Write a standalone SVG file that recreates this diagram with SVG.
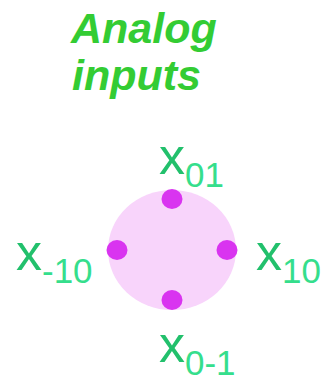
<svg xmlns="http://www.w3.org/2000/svg" width="324" height="380" viewBox="0 0 324 380">
<style>
.title{font-family:"Liberation Sans",Arial,sans-serif;font-weight:bold;font-style:italic;font-size:43px;fill:#33cc33}
.lbl{font-family:"Liberation Sans",Arial,sans-serif;font-size:52px;fill:#22c06c}
.sub{font-size:35px;fill:#35de8c}
.dot{fill:#d934f0}
</style>
<rect width="324" height="380" fill="#ffffff"/>
<g id="title">
<text class="title" x="71" y="43">Analog</text>
<text class="title" x="72" y="90">inputs</text>
</g>
<g id="disc">
<ellipse cx="172" cy="250" rx="64" ry="60" fill="#f8d4fb"/>
</g>
<g id="connectors"></g>
<g id="n01">
<ellipse class="dot" cx="172" cy="199" rx="10.5" ry="10"/>
<text class="lbl" x="159" y="174">x<tspan class="sub" dy="13">01</tspan></text>
</g>
<g id="nm10">
<ellipse class="dot" cx="117" cy="250" rx="10.5" ry="10"/>
<text class="lbl" x="16" y="270">x<tspan class="sub" dy="13">-10</tspan></text>
</g>
<g id="n10">
<ellipse class="dot" cx="227" cy="250" rx="10.5" ry="10"/>
<text class="lbl" x="256" y="270">x<tspan class="sub" dy="13">10</tspan></text>
</g>
<g id="n0m1">
<ellipse class="dot" cx="172" cy="300" rx="10.5" ry="10"/>
<text class="lbl" x="159" y="362">x<tspan class="sub" dy="13">0-1</tspan></text>
</g>
</svg>
